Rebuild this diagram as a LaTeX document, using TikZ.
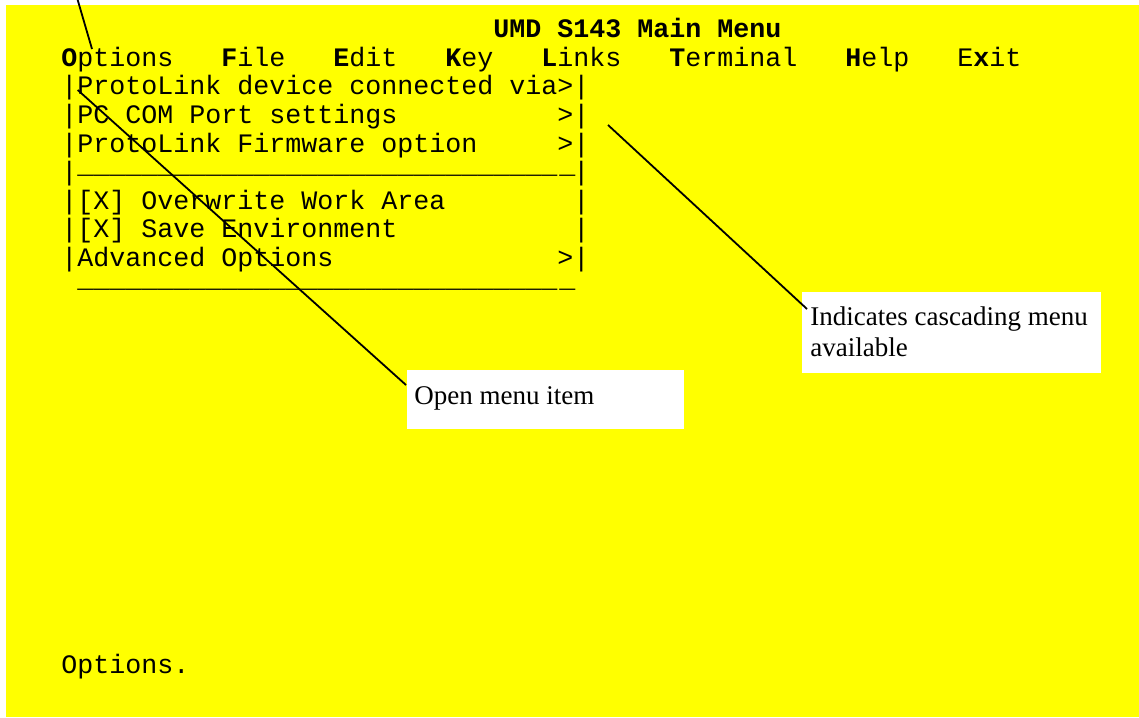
\documentclass[tikz,border=0pt]{standalone}
\usepackage{fontspec}
\setmainfont{Liberation Serif}
\setmonofont{Liberation Mono}
\usetikzlibrary{calc}
\definecolor{screenyellow}{RGB}{255,255,0}
\newcommand{\menurule}{\raisebox{3.5pt}{\_\_\_\_\_\_\_\_\_\_\_\_\_\_\_\_\_\_\_\_\_\_\_\_\_\_\_\_\_\_\kern1pt\_\kern-1pt}}
\tikzset{
  scr/.style={anchor=base west, inner sep=0pt, font=\ttfamily\fontsize{13.33}{14}\selectfont},
  callbox/.style={fill=white, inner sep=0pt, anchor=north west},
  calltext/.style={anchor=base west, inner sep=0pt, font=\fontsize{13.5}{15.5}\selectfont},
  pointer/.style={line width=0.9pt}
}

\begin{document}
\begin{tikzpicture}[x=0.5pt, y=-0.5pt]
  % Screen
  \useasboundingbox (0,0) rectangle (1139,717);
  \fill[screenyellow] (6,5) rectangle (1139,717);

  % Title and menu bar
  \node[scr] (title) at (493,38) {\bfseries UMD S143 Main Menu};
  \node[scr] (menubar) at (61,66.5) {\textbf{O}ptions~~~\textbf{F}ile~~~\textbf{E}dit~~~\textbf{K}ey~~~\textbf{L}inks~~~\textbf{T}erminal~~~\textbf{H}elp~~~E\textbf{x}it};

  % Options drop-down
  \node[scr] (row1) at (61,95) {|ProtoLink device connected via>|};
  \node[scr] (row2) at (61,123.5) {|PC COM Port settings~~~~~~~~~~>|};
  \node[scr] (row3) at (61,152) {|ProtoLink Firmware option~~~~~>|};
  \node[scr] (row4) at (61,180.5) {|\menurule|};
  \node[scr] (row5) at (61,209) {|[X] Overwrite Work Area~~~~~~~~|};
  \node[scr] (row6) at (61,237.5) {|[X] Save Environment~~~~~~~~~~~|};
  \node[scr] (row7) at (61,266) {|Advanced Options~~~~~~~~~~~~~~>|};
  \node[scr] (row8) at (61,294.5) {~\menurule};

  % Status line
  \node[scr] (status) at (61,673) {Options.};

  % Callouts
  \node[callbox, minimum width=138.5pt, minimum height=29.5pt] (openBox) at (407,370) {};
  \node[calltext] (openText) at (414,404) {Open menu item};
  \node[callbox, minimum width=149.5pt, minimum height=40.5pt] (cascBox) at (802,292) {};
  \node[calltext] (cascText) at (810,325) {Indicates cascading menu};
  \node[calltext] (cascText2) at (810,356) {available};

  \coordinate (optTop) at (77.7,0);
  \coordinate (optMark) at (92,49);
  \coordinate (protoMark) at (77.7,90);
  \coordinate (cascMark) at (608,125);

  \draw[pointer] (optTop) -- (optMark);
  \draw[pointer] (protoMark) -- ($(openBox.north west)+(-1,15)$);
  \draw[pointer] (cascMark) -- ($(cascBox.north west)+(5,17)$);

\end{tikzpicture}
\end{document}
